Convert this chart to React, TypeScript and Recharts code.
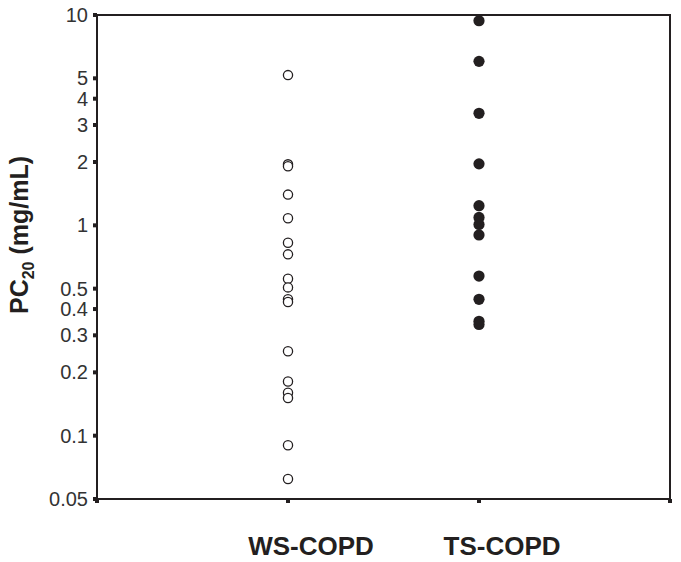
import React from 'react';
import { ScatterChart, Scatter, XAxis, YAxis, ReferenceArea } from 'recharts';

// PC20 values
const WS_COPD = [5.18, 1.95, 1.91, 1.4, 1.08, 0.827, 0.728, 0.557, 0.507, 0.445, 0.432, 0.252, 0.181, 0.16, 0.151, 0.09, 0.0622];
const TS_COPD = [9.39, 6.02, 3.41, 1.96, 1.24, 1.09, 1.01, 0.9, 0.574, 0.445, 0.35, 0.338];

const GROUPS = ['', 'WS-COPD', 'TS-COPD', ''];
const X_TICKS = [0, 1, 2, 3];
const Y_TICKS = [0.05, 0.1, 0.2, 0.3, 0.4, 0.5, 1, 2, 3, 4, 5, 10];

const FONT = '"Liberation Sans", Arial, sans-serif';
const INK = '#231f20';

const wsData = WS_COPD.map((v) => ({ x: 1, y: v }));
const tsData = TS_COPD.map((v) => ({ x: 2, y: v }));

function OpenDot({ cx, cy }: any) {
  return <circle cx={cx} cy={cy} r={4.6} fill="#fff" stroke={INK} strokeWidth={1.3} />;
}

function FilledDot({ cx, cy }: any) {
  return <circle cx={cx} cy={cy} r={5.6} fill={INK} stroke="none" />;
}

function GroupTick({ x, y, payload }: any) {
  const name = GROUPS[payload.value];
  if (!name) return null;
  return (
    <text x={x + 23} y={y} dy={50} textAnchor="middle" fontFamily={FONT}
      fontWeight="bold" fontSize={26} fill={INK}>
      {name}
    </text>
  );
}

function YTitle({ viewBox }: any) {
  const cx = viewBox.x + 28;
  const cy = viewBox.y + viewBox.height / 2 - 22;
  return (
    <text transform={`translate(${cx},${cy}) rotate(-90)`} textAnchor="middle"
      fontFamily={FONT} fontWeight="bold" fontSize={25} fill={INK}>
      <tspan>PC</tspan>
      <tspan dy={6} fontSize={16}>20</tspan>
      <tspan dy={-6}>{'  (mg/mL)'}</tspan>
    </text>
  );
}

export default function App() {
  return (
    <div style={{ position: 'absolute', left: 0, top: 0, background: '#fff' }}>
      <ScatterChart width={681} height={562} margin={{ top: 15, right: 11, bottom: 0, left: 0 }}>
        <XAxis type="number" dataKey="x" domain={[0, 3]} ticks={X_TICKS} allowDataOverflow
          height={63} interval={0}
          tick={<GroupTick />} tickSize={4} tickLine={{ stroke: INK, strokeWidth: 4 }}
          axisLine={{ stroke: INK, strokeWidth: 2 }} />
        <YAxis type="number" dataKey="y" scale="log" domain={[0.05, 10]} ticks={Y_TICKS}
          allowDataOverflow width={97} tickSize={4} tickMargin={5} interval={0}
          tickLine={{ stroke: INK, strokeWidth: 4 }} axisLine={{ stroke: INK, strokeWidth: 2 }}
          tick={{ fontFamily: FONT, fontSize: 20, fill: '#333' }}
          tickFormatter={(v: number) => String(v)}
          label={<YTitle />} />
        <ReferenceArea x1={0} x2={3} y1={0.05} y2={10} fill="none" stroke={INK} strokeWidth={2} />
        <Scatter data={wsData} shape={<OpenDot />} isAnimationActive={false} />
        <Scatter data={tsData} shape={<FilledDot />} isAnimationActive={false} />
      </ScatterChart>
    </div>
  );
}
